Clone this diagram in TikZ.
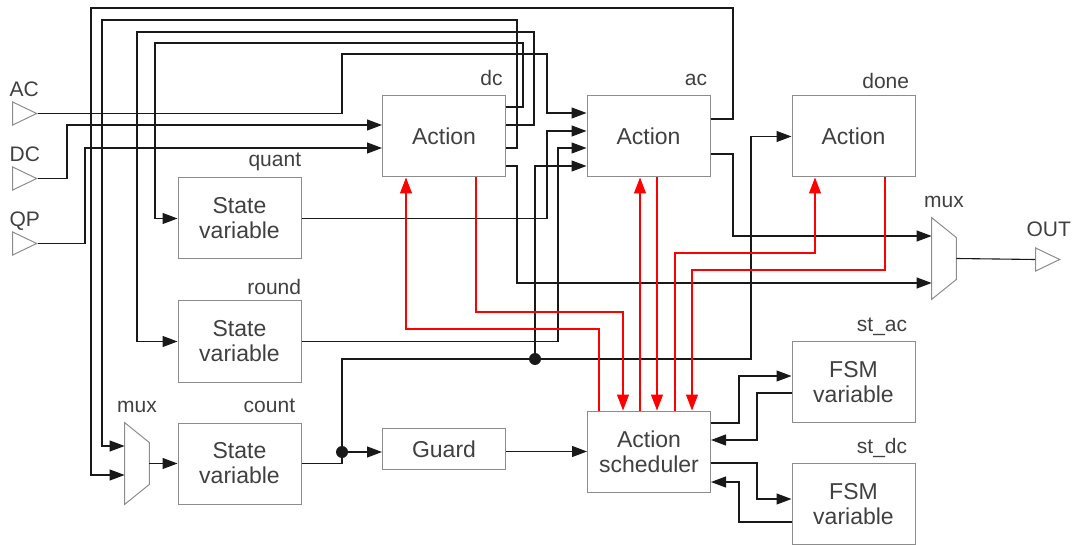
\documentclass[tikz,border=0pt]{standalone}
\usepackage{fontspec}
\setmainfont{Liberation Sans}
\usetikzlibrary{arrows.meta,positioning,shapes.geometric}
\definecolor{grisb}{RGB}{140,140,140}
\definecolor{grist}{RGB}{64,64,64}
\definecolor{linea}{RGB}{25,25,25}
\definecolor{rojo}{RGB}{255,0,0}
\tikzset{
  caja/.style={draw=grisb, line width=0.5pt, align=center, inner sep=0pt, minimum width=61.5pt, minimum height=40.5pt, text=grist, font=\fontsize{11.5}{12.5}\selectfont},
  puerto/.style={draw=grisb, line width=0.5pt, isosceles triangle, isosceles triangle stretches, inner sep=0pt, minimum width=11.5pt, minimum height=12pt},
  muxb/.style={inner sep=0pt, minimum width=12pt, minimum height=40.5pt},
  et/.style={text=grist, inner sep=0pt, text depth=0pt, font=\fontsize{10.5}{12}\selectfont},
  cable/.style={draw=linea, line width=0.55pt},
  fl/.style={cable, -{Triangle[length=7.5pt,width=5.5pt]}},
  cr/.style={draw=rojo, line width=0.6pt},
  flr/.style={cr, -{Triangle[length=8pt,width=6pt]}},
}
\begin{document}
\begin{tikzpicture}[x=0.5pt, y=-0.5pt]
  \useasboundingbox (0,0) rectangle (1076,545);
  \node[caja] (dcA) at (444,136.5) {Action};
  \node[caja] (acA) at (648.5,136.5) {Action};
  \node[caja] (doneA) at (853.5,136.5) {Action};
  \node[caja] (quant) at (239.5,218.5) {State\\variable};
  \node[caja] (round) at (239.5,341.5) {State\\variable};
  \node[caja] (count) at (239.5,463.5) {State\\variable};
  \node[caja, minimum height=20.5pt] (guard) at (444,449) {Guard};
  \node[caja] (sched) at (649,451.5) {Action\\scheduler};
  \node[caja] (stac) at (853.5,382) {FSM\\variable};
  \node[caja] (stdc) at (853.5,504) {FSM\\variable};
  \node[puerto, anchor=apex] (inAC) at (38,113.5) {};
  \node[puerto, anchor=apex] (inDC) at (38,178.5) {};
  \node[puerto, anchor=apex] (inQP) at (38,243.5) {};
  \node[puerto, anchor=apex] (outP) at (1061,259.5) {};
  \node[muxb] (mux1) at (137,463.5) {};
  \node[muxb] (mux2) at (944,258.5) {};
  \draw[grisb, line width=0.5pt] (mux1.north west) -- ([yshift=-10pt]mux1.north east) -- ([yshift=10pt]mux1.south east) -- (mux1.south west) -- cycle;
  \draw[grisb, line width=0.5pt] (mux2.north west) -- ([yshift=-10pt]mux2.north east) -- ([yshift=10pt]mux2.south east) -- (mux2.south west) -- cycle;

  \node[et, above right=2pt and -1.5pt of inAC.left corner] (tAC) {AC};
  \node[et, above right=2pt and -1.5pt of inDC.left corner] (tDC) {DC};
  \node[et, above right=2pt and -1.5pt of inQP.left corner] (tQP) {QP};
  \node[et, above right=5pt and -4.5pt of outP.left corner] (tOUT) {OUT};
  \node[et, above=5pt of mux1] (tmux1) {mux};
  \node[et, above=5pt of mux2] (tmux2) {mux};
  \node[et, above left=5pt and 1.5pt of dcA.north east] (tdc) {dc};
  \node[et, above left=5pt and 1.5pt of acA.north east] (tac) {ac};
  \node[et, above left=3.5pt and 3pt of doneA.north east] (tdone) {done};
  \node[et, above left=5.5pt and 0pt of quant.north east] (tquant) {quant};
  \node[et, above left=3pt and 0pt of round.north east] (tround) {round};
  \node[et, above left=5pt and 3pt of count.north east] (tcount) {count};
  \node[et, above left=4.5pt and 4pt of stac.north east] (tstac) {st\_ac};
  \node[et, above left=4.5pt and 4pt of stdc.north east] (tstdc) {st\_dc};

  \draw[fl] (inAC.apex) -| (342,54) -| (547,113) -- (acA.west |- 0,113);
  \draw[fl] (inDC.apex) -| (67,125) -- (dcA.west |- 0,125);
  \draw[fl] (inQP.apex) -| (85,148) -- (dcA.west |- 0,148);
  \draw[fl] (dcA.east |- 0,107) -| (523,43) -| (155,218.5) -- (quant.west);
  \draw[fl] (dcA.east |- 0,125) -| (534,32) -| (137,341.5) -- (round.west);
  \draw[fl] (dcA.east |- 0,148) -| (517,20) -| (102,446) -- (mux1.west |- 0,446);
  \draw[fl] (dcA.east |- 0,166) -| (517,283) -- (mux2.west |- 0,283);
  \draw[fl] (acA.east |- 0,119) -| (733,8) -| (91,475) -- (mux1.west |- 0,475);
  \draw[fl] (acA.east |- 0,154) -| (733,236) -- (mux2.west |- 0,236);
  \draw[fl] (quant.east) -| (547,131) -- (acA.west |- 0,131);
  \draw[fl] (round.east) -| (558,148) -- (acA.west |- 0,148);
  \draw[fl] (mux1.east) -- (count.west);
  \draw[fl] (count.east) -| (342,359) -| (751,136.5) -- (doneA.west);
  \coordinate (n1) at (342,452);
  \coordinate (n2) at (535,359);
  \fill[linea] (n1) circle (3pt) (n2) circle (3pt);
  \draw[fl] (n1) -- (guard.west |- n1);
  \draw[fl] (n2) |- (acA.west |- 0,166);
  \draw[fl] (guard.east |- sched) -- (sched.west);
  \draw[cable] (mux2.east) -- (outP.west);

  \draw[flr] (sched.north -| 599,0) |- (406,329) -- (dcA.south -| 406,0);
  \draw[flr] (dcA.south -| 476,0) |- (623,312) -- (sched.north -| 623,0);
  \draw[flr] (sched.north -| 640,0) -- (acA.south -| 640,0);
  \draw[flr] (acA.south -| 657,0) -- (sched.north -| 657,0);
  \draw[flr] (sched.north -| 675,0) |- (815,253) -- (doneA.south -| 815,0);
  \draw[flr] (doneA.south -| 885,0) |- (692,270) -- (sched.north -| 692,0);

  \draw[fl] (sched.east |- 0,423) -| (739,376) -- (stac.west |- 0,376);
  \draw[fl] (stac.west |- 0,393) -| (757,440) -- (sched.east |- 0,440);
  \draw[fl] (sched.east |- 0,463) -| (757,499) -- (stdc.west |- 0,499);
  \draw[fl] (stdc.west |- 0,522) -| (739,482) -- (sched.east |- 0,482);
\end{tikzpicture}
\end{document}
